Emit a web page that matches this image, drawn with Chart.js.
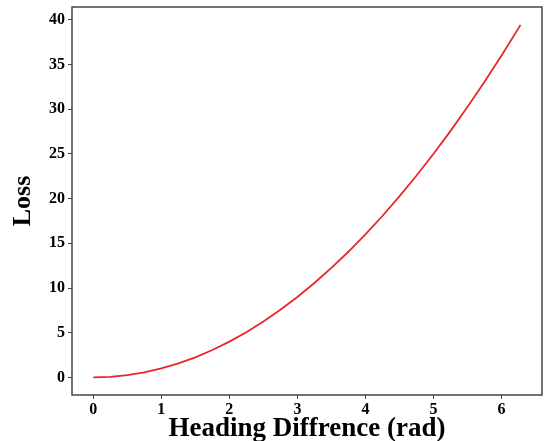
<!DOCTYPE html>
<html>
<head>
<meta charset="utf-8">
<script src="https://cdn.jsdelivr.net/npm/chart.js@4/dist/chart.umd.min.js"></script>
<style>
  html, body { margin: 0; padding: 0; background: #fff; }
</style>
</head>
<body>
<canvas id="myChart" width="545" height="441"></canvas>
<script>
// Loss vs heading difference
const heading = [0, 0.25, 0.5, 0.75, 1, 1.25, 1.5, 1.75, 2, 2.25, 2.5, 2.75, 3, 3.25,
  3.5, 3.75, 4, 4.25, 4.5, 4.75, 5, 5.25, 5.5, 5.75, 6, 6.25, 6.28];
const loss = [0, 0.06, 0.25, 0.56, 1.0, 1.56, 2.25, 3.06, 4.0, 5.06, 6.25, 7.56, 9.0, 10.56,
  12.25, 14.06, 16.0, 18.06, 20.25, 22.56, 25.0, 27.56, 30.25, 33.06, 36.0, 39.06, 39.45];
const xTicks = [0, 1, 2, 3, 4, 5, 6];
const yTicks = [0, 5, 10, 15, 20, 25, 30, 35, 40];

const serif = "'Liberation Serif', 'Times New Roman', serif";

// box around the plot area
const frame = {
  id: "frame",
  afterDraw(chart) {
    const { ctx, chartArea: a } = chart;
    ctx.save();
    ctx.strokeStyle = "#444";
    ctx.lineWidth = 1.5;
    ctx.strokeRect(a.left, a.top, a.right - a.left, a.bottom - a.top);
    ctx.restore();
  }
};

new Chart(document.getElementById("myChart"), {
  type: "line",
  data: {
    datasets: [
      {
        data: heading.map((x, i) => ({ x: x, y: loss[i] })),
        borderColor: "#e8262b",
        borderWidth: 1.8,
        pointRadius: 0,
        tension: 0,
        fill: false
      }
    ]
  },
  plugins: [frame],
  options: {
    responsive: false,
    animation: false,
    layout: { padding: { left: 0, top: 7, right: 3, bottom: 0 } },
    plugins: { legend: { display: false }, tooltip: { enabled: false } },
    scales: {
      x: {
        type: "linear",
        min: -0.314,
        max: 6.597,
        afterBuildTicks: s => { s.ticks = xTicks.map(v => ({ value: v })); },
        afterFit: s => { s.height = 46; s.paddingLeft = 0; s.paddingRight = 0; },
        border: { display: false },
        grid: { drawOnChartArea: false, drawTicks: true, tickLength: 4, color: "#444" },
        ticks: { color: "#000", padding: 1, font: { family: serif, size: 16, weight: "bold" } },
        title: {
          display: true,
          text: "Heading Diffrence (rad)",
          color: "#000",
          padding: 0,
          font: { family: serif, size: 27, weight: "bold", lineHeight: 0.9 }
        }
      },
      y: {
        min: -1.97,
        max: 41.45,
        afterBuildTicks: s => { s.ticks = yTicks.map(v => ({ value: v })); },
        afterFit: s => { s.width = 72; s.paddingTop = 0; s.paddingBottom = 0; },
        border: { display: false },
        grid: { drawOnChartArea: false, drawTicks: true, tickLength: 4, color: "#444" },
        ticks: { color: "#000", padding: 3, font: { family: serif, size: 16, weight: "bold" } },
        title: {
          display: true,
          text: "Loss",
          color: "#000",
          padding: { top: 8, bottom: 0 },
          font: { family: serif, size: 26, weight: "bold", lineHeight: 1.2 }
        }
      }
    }
  }
});
</script>
</body>
</html>
